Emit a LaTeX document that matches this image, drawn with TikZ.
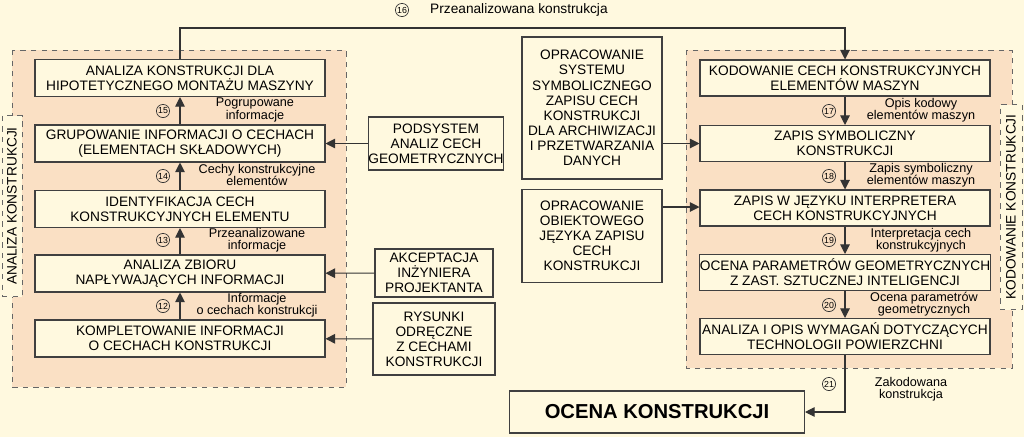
\documentclass[tikz,border=0pt]{standalone}
\usepackage{fontspec}
\setmainfont{Liberation Sans}
\usetikzlibrary{arrows.meta}
\begin{document}
\begin{tikzpicture}[x=0.02cm,y=-0.02cm,
  box/.style={draw=black!75,line width=0.6pt,fill=cream,align=center,font=\fontsize{7.8}{8.6}\selectfont,inner sep=0pt},
  panel/.style={draw=black!60,dashed,line width=0.5pt,fill=peach},
  lab/.style={font=\fontsize{7.2}{7}\selectfont,align=center,inner sep=0pt},
  num/.style={circle,draw=black!80,line width=0.4pt,inner sep=0pt,minimum size=7.5pt,font=\fontsize{5}{5}\selectfont},
  arr/.style={draw=black!80,line width=0.6pt,-{Triangle[length=5.5pt,width=5.5pt]}}]
\definecolor{cream}{HTML}{FFF9DF}
\definecolor{peach}{HTML}{FAE0C4}
\fill[cream] (0,0) rectangle (1024,437);
\useasboundingbox (0,0) rectangle (1024,437);
% panels
\path[panel] (12,50) rectangle (346,387);
\path[panel] (686,50) rectangle (1012,368);
\node[draw=black!60,dashed,line width=0.5pt,fill=cream,minimum width=20*0.02cm,minimum height=181*0.02cm,inner sep=0pt] (ll) at (12,206) {};
\node[rotate=90,font=\fontsize{7.8}{8}\selectfont] at (ll) {ANALIZA KONSTRUKCJI};
\node[draw=black!60,dashed,line width=0.5pt,fill=cream,minimum width=22*0.02cm,minimum height=205*0.02cm,inner sep=0pt] (rl) at (1011,207) {};
\node[rotate=90,font=\fontsize{7.8}{8}\selectfont] at (rl) {KODOWANIE KONSTRUKCJI};
% left boxes
\tikzset{lb/.style={box,minimum width=290*0.02cm,minimum height=37*0.02cm}}
\node[lb] (b1) at (180,78) {ANALIZA KONSTRUKCJI DLA\\HIPOTETYCZNEGO MONTAŻU MASZYNY};
\node[lb] (b2) at (180,143.5) {GRUPOWANIE INFORMACJI O CECHACH\\(ELEMENTACH SKŁADOWYCH)};
\node[lb] (b3) at (180,209) {IDENTYFIKACJA CECH\\KONSTRUKCYJNYCH ELEMENTU};
\node[lb] (b4) at (180,273.5) {ANALIZA ZBIORU\\NAPŁYWAJĄCYCH INFORMACJI};
\node[lb] (b5) at (180,338.5) {KOMPLETOWANIE INFORMACJI\\O CECHACH KONSTRUKCJI};
\draw[arr] (b2) -- (b1); \draw[arr] (b3) -- (b2); \draw[arr] (b4) -- (b3); \draw[arr] (b5) -- (b4);
\node[num] (n15) at (163,111) {15}; \node[lab] (l15) at (255,110) {Pogrupowane\\informacje};
\node[num] (n14) at (163,176) {14}; \node[lab] (l14) at (257,175) {Cechy konstrukcyjne\\elementów};
\node[num] (n13) at (163,240) {13}; \node[lab] (l13) at (257,240) {Przeanalizowane\\informacje};
\node[num] (n12) at (163,306) {12}; \node[lab] (l12) at (257,305) {Informacje\\o cechach konstrukcji};
% side boxes
\node[box,minimum width=128*0.02cm,minimum height=53*0.02cm] (ps) at (436,143.5) {PODSYSTEM\\ANALIZ CECH\\GEOMETRYCZNYCH};
\node[box,minimum width=118*0.02cm,minimum height=48*0.02cm] (ak) at (434,273) {AKCEPTACJA\\INŻYNIERA\\PROJEKTANTA};
\node[box,minimum width=122*0.02cm,minimum height=72*0.02cm] (ry) at (434,339) {RYSUNKI\\ODRĘCZNE\\Z CECHAMI\\KONSTRUKCJI};
\draw[arr] (ps) -- (b2); \draw[arr] (ak) -- (b4); \draw[arr] (ry) -- (b5);
% middle boxes
\node[box,minimum width=140*0.02cm,minimum height=142*0.02cm] (os) at (592,108) {OPRACOWANIE\\SYSTEMU\\SYMBOLICZNEGO\\ZAPISU CECH\\KONSTRUKCJI\\DLA ARCHIWIZACJI\\I PRZETWARZANIA\\DANYCH};
\node[box,minimum width=140*0.02cm,minimum height=93*0.02cm] (oo) at (592,236) {OPRACOWANIE\\OBIEKTOWEGO\\JĘZYKA ZAPISU\\CECH\\KONSTRUKCJI};
% right boxes
\tikzset{rb/.style={box,minimum width=290*0.02cm,minimum height=36*0.02cm}}
\node[rb] (r1) at (845,78) {KODOWANIE CECH KONSTRUKCYJNYCH\\ELEMENTÓW MASZYN};
\node[rb] (r2) at (845,143.5) {ZAPIS SYMBOLICZNY\\KONSTRUKCJI};
\node[rb] (r3) at (845,208) {ZAPIS W JĘZYKU INTERPRETERA\\CECH KONSTRUKCYJNYCH};
\node[rb] (r4) at (845,272.5) {OCENA PARAMETRÓW GEOMETRYCZNYCH\\Z ZAST. SZTUCZNEJ INTELIGENCJI};
\node[rb] (r5) at (845,336.5) {ANALIZA I OPIS WYMAGAŃ DOTYCZĄCYCH\\TECHNOLOGII POWIERZCHNI};
\draw[arr] (r1) -- (r2); \draw[arr] (r2) -- (r3); \draw[arr] (r3) -- (r4); \draw[arr] (r4) -- (r5);
\draw[arr] (os.east |- r2) -- (r2.west);
\draw[arr] (oo.east |- 207,207) -- (r3.west |- 207,207);
\node[num] (n17) at (829,111) {17}; \node[lab] (l17) at (921,110) {Opis kodowy\\elementów maszyn};
\node[num] (n18) at (829,176) {18}; \node[lab] (l18) at (921,175) {Zapis symboliczny\\elementów maszyn};
\node[num] (n19) at (829,240) {19}; \node[lab] (l19) at (921,240) {Interpretacja cech\\konstrukcyjnych};
\node[num] (n20) at (829,305) {20}; \node[lab] (l20) at (924,304) {Ocena parametrów\\geometrycznych};
% bottom
\node[draw=black!75,line width=0.6pt,fill=cream,minimum width=295*0.02cm,minimum height=42*0.02cm,font=\bfseries\fontsize{11.5}{12}\selectfont] (oc) at (657,412) {OCENA KONSTRUKCJI};
\coordinate (c21) at (845,412);
\draw[arr] (r5.south) -- (c21) -- (oc.east);
\node[num] (n21) at (829,384) {21}; \node[lab] (l21) at (911,389) {Zakodowana\\konstrukcja};
% top
\coordinate (t1) at (180,28); \coordinate (t2) at (845,28);
\draw[arr] (b1.north) -- (t1) -- (t2) -- (r1.north);
\node[num] (n16) at (402,10) {16};
\node[font=\fontsize{7.8}{8}\selectfont,anchor=west] (l16) at (424,10) {Przeanalizowana konstrukcja};
\end{tikzpicture}
\end{document}
